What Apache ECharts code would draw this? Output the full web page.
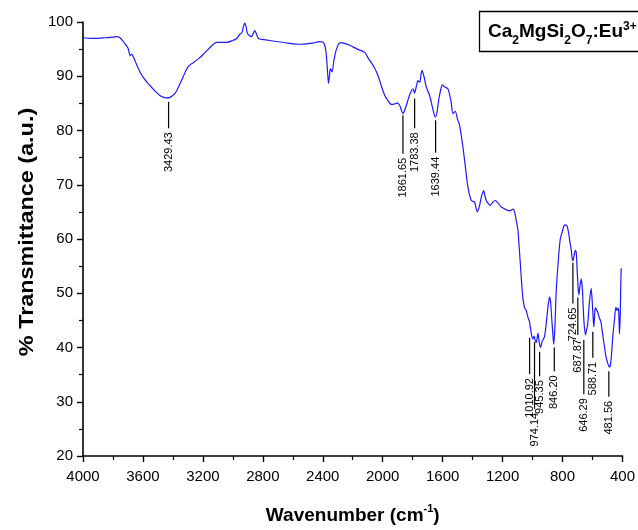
<!DOCTYPE html>
<html><head><meta charset="utf-8">
<script src="https://cdn.jsdelivr.net/npm/echarts@6/dist/echarts.min.js"></script>
<style>html,body{margin:0;padding:0;background:#fff}#c{width:638px;height:530px}</style>
</head><body><div id="c"></div>
<script>
const wavenumbers = [4000,3950,3900,3850,3800,3770,3750,3720,3700,3685,3675,3660,3640,3620,3598,3570,3553,3520,3487,3460,3440,3420,3400,3387,3370,3353,3330,3309,3290,3264,3230,3198,3160,3130,3109,3042,3000,2976,2955,2940,2928,2920,2912,2904,2890,2875,2862,2853,2843,2827,2780,2709,2630,2553,2500,2467,2420,2400,2391,2380,2372,2362,2355,2349,2338,2325,2313,2295,2282,2250,2220,2170,2120,2098,2060,2031,2010,1987,1965,1942,1920,1904,1887,1875,1865,1855,1842,1820,1798,1787,1775,1765,1753,1745,1738,1725,1709,1687,1670,1655,1647,1637,1625,1612,1602,1585,1565,1545,1531,1516,1500,1487,1464,1445,1431,1409,1387,1369,1355,1342,1327,1318,1309,1295,1282,1265,1249,1230,1209,1190,1176,1153,1131,1120,1110,1098,1090,1082,1072,1064,1053,1042,1030,1020,1010,998,990,985,976,964,956,947,935,920,905,895,887,880,870,862,858,850,842,827,815,800,791,780,769,760,753,742,735,731,723,715,709,702,696,691,683,675,668,663,657,647,640,633,620,609,600,594,591,585,580,570,565,555,544,530,522,510,500,490,484,477,470,465,455,444,437,430,425,420,415,409,405];
const transmittance = [97.1,97.0,97.0,97.1,97.2,97.3,97.0,96.0,95.2,93.8,94.1,93.3,92.0,90.8,89.8,88.8,88.3,87.3,86.45,86.1,86.0,86.1,86.5,86.8,87.6,88.6,90.0,91.3,92.0,92.5,93.2,94.0,95.1,95.9,96.25,96.25,96.6,96.9,97.7,98.0,99.3,99.8,99.2,98.0,97.5,97.3,98.0,98.4,97.8,96.9,96.7,96.4,96.1,95.9,96.0,96.1,96.4,96.3,96.0,94.8,92.5,88.7,90.2,91.4,90.8,93.0,94.6,95.9,96.2,96.0,95.7,95.0,94.4,93.4,91.8,90.1,88.3,86.5,85.5,84.8,84.9,85.1,84.65,83.7,83.1,83.6,84.65,86.6,87.7,86.9,88.2,89.2,88.9,90.2,91.1,90.0,88.0,86.45,84.5,82.8,82.5,83.5,85.85,87.6,88.4,88.0,87.7,85.5,83.1,83.55,82.0,81.0,76.8,72.5,69.5,67.1,66.8,65.0,66.0,67.7,68.9,68.0,67.1,66.5,66.2,66.8,67.1,66.6,65.9,65.6,65.4,65.2,65.5,65.0,63.6,61.65,58.8,55.6,51.5,49.0,47.3,46.8,45.5,44.7,42.8,41.6,42.1,41.5,40.9,42.6,41.0,40.0,41.2,42.0,45.5,48.0,49.3,48.4,44.5,41.5,40.6,44.5,50.5,56.5,60.0,61.5,62.4,62.6,62.3,61.2,59.9,58.0,56.3,56.0,57.0,57.9,57.6,54.0,51.0,49.7,51.5,52.6,51.0,48.0,44.7,42.3,43.2,44.1,48.5,50.9,47.5,44.7,43.8,46.5,47.3,46.8,46.5,45.5,44.7,42.0,40.5,38.3,37.2,36.5,36.4,37.5,39.9,42.0,44.7,47.45,46.85,47.2,46.5,42.5,46.0,54.4,54.6];

const annotPos = [3429,1865,1787,1647,1020,987,953,855,731,698,658,598,491];
const annotTop = [85.3,82.8,85.9,81.9,41.8,41.0,39.2,40.0,55.6,49.2,41.4,42.9,35.6];
const annotBottom = [80.4,75.7,80.4,75.9,35.1,28.7,34.7,35.6,48.1,42.3,31.4,38.1,30.9];
const annotText = ['3429.43','1861.65','1783.38','1639.44','1010.92','974.14','945.35','846.20','724.65','687.87','646.29','588.71','481.56'];

const xTitle = 'Wavenumber (cm';
const yTitle = '% Transmittance (a.u.)';

const FF = '"Liberation Sans", Arial, sans-serif';
const chart = echarts.init(document.getElementById('c'), null, {renderer: 'canvas'});

const lineData = wavenumbers.map((w, i) => [w, transmittance[i]]);
const annotData = annotPos.map((p, i) => [p, annotTop[i], annotBottom[i]]);

chart.setOption({
  backgroundColor: '#fff',
  animation: false,
  grid: {left: 83, right: 15, top: 22, bottom: 67, containLabel: false},
  xAxis: {
    type: 'value', min: 400, max: 4000, interval: 400, inverse: true,
    axisLine: {show: true, lineStyle: {color: '#000', width: 1.6}},
    axisTick: {show: true, length: 6, lineStyle: {color: '#000', width: 1.4}},
    minorTick: {show: true, splitNumber: 2, length: 4, lineStyle: {color: '#000', width: 1.2}},
    splitLine: {show: false},
    axisLabel: {color: '#000', fontSize: 15, fontFamily: FF, margin: 13, formatter: v => String(v)},
    name: '{t|' + xTitle + '}{s|-1}{t|)}',
    nameLocation: 'middle', nameGap: 45,
    nameTextStyle: {
      rich: {
        t: {fontSize: 19, fontWeight: 'bold', fontFamily: FF, color: '#000', lineHeight: 24, verticalAlign: 'bottom'},
        s: {fontSize: 11, fontWeight: 'bold', fontFamily: FF, color: '#000', lineHeight: 11, verticalAlign: 'top', padding: [2, 0, 0, 0]}
      }
    }
  },
  yAxis: {
    type: 'value', min: 20, max: 100, interval: 10,
    axisLine: {show: true, lineStyle: {color: '#000', width: 1.6}},
    axisTick: {show: true, length: 6, lineStyle: {color: '#000', width: 1.4}},
    minorTick: {show: true, splitNumber: 2, length: 4, lineStyle: {color: '#000', width: 1.2}},
    splitLine: {show: false},
    axisLabel: {color: '#000', fontSize: 15, fontFamily: FF, margin: 10, formatter: v => String(v)}
  },
  graphic: [
    {
      type: 'text', x: 27, y: 232, rotation: Math.PI / 2, scaleX: 1.17,
      style: {text: yTitle, font: 'bold 20px ' + FF, fill: '#000', align: 'center', verticalAlign: 'middle'}
    },
    {
      type: 'rect', shape: {x: 479.5, y: 11.5, width: 170, height: 40},
      style: {fill: '#fff', stroke: '#000', lineWidth: 1.3}, z: 10
    },
    {
      type: 'text', x: 488, y: 31.5, z: 11,
      style: {
        text: '{m|Ca}{s|2}{m|MgSi}{s|2}{m|O}{s|7}{m|:Eu}{p|3+}',
        verticalAlign: 'middle', align: 'left',
        rich: {
          m: {font: 'bold 19px ' + FF, fill: '#000', lineHeight: 30},
          s: {font: 'bold 12px ' + FF, fill: '#000', lineHeight: 12, verticalAlign: 'bottom'},
          p: {font: 'bold 12px ' + FF, fill: '#000', lineHeight: 12, verticalAlign: 'top', padding: [4, 0, 0, 0]}
        }
      }
    }
  ],
  series: [
    {
      type: 'line', data: lineData, showSymbol: false, symbol: 'none',
      lineStyle: {color: '#1a1aff', width: 1.2}, smooth: 0.25, z: 3
    },
    {
      type: 'custom', data: annotData, clip: false, z: 4,
      encode: {x: 0, y: 1},
      renderItem: function (params, api) {
        const top = api.coord([api.value(0), api.value(1)]);
        const bot = api.coord([api.value(0), api.value(2)]);
        return {
          type: 'group',
          children: [
            {type: 'line', shape: {x1: top[0], y1: top[1], x2: bot[0], y2: bot[1]}, style: {stroke: '#000', lineWidth: 1.2}},
            {type: 'text', x: bot[0], y: bot[1] + 4, rotation: Math.PI / 2,
             style: {text: annotText[params.dataIndex], font: '11px ' + FF, fill: '#000', align: 'right', verticalAlign: 'middle'}}
          ]
        };
      }
    }
  ]
});
</script>
</body></html>
